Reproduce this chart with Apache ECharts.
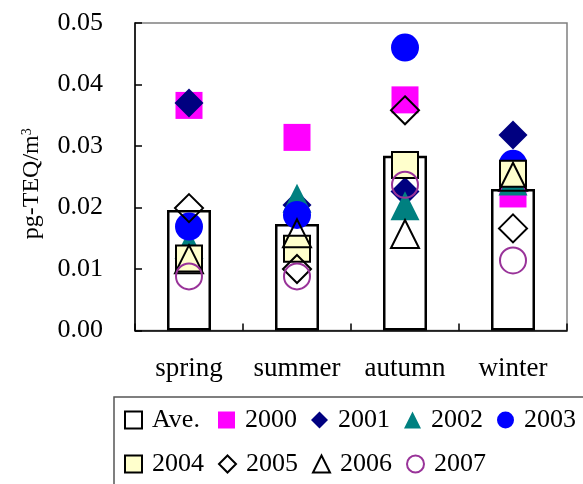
<!DOCTYPE html>
<html>
<head>
<meta charset="utf-8">
<script src="https://cdn.jsdelivr.net/npm/echarts@6/dist/echarts.min.js"></script>
<style>
  html, body { margin: 0; padding: 0; background: #fff; }
  #chart { width: 583px; height: 484px; }
</style>
</head>
<body>
<div id="chart"></div>
<script>
// Seasonal dioxin concentrations (pg-TEQ/m3), average bars and yearly markers
const seasons = ['spring', 'summer', 'autumn', 'winter'];
const yTicks = [0, 0.01, 0.02, 0.03, 0.04, 0.05];

const ave   = [0.0196, 0.0173, 0.0284, 0.0230];
const y2000 = [0.0366, 0.0314, 0.0375, 0.0222];
const y2001 = [0.0370, 0.0204, 0.0226, 0.0318];
const y2002 = [0.0140, 0.0215, 0.0203, 0.0243];
const y2003 = [0.0169, 0.0188, 0.0460, 0.0271];
const y2004 = [0.0117, 0.0133, 0.0269, 0.0255];
const y2005 = [0.0199, 0.0100, 0.0358, 0.0166];
const y2006 = [0.0116, 0.0158, 0.0157, 0.0250];
const y2007 = [0.0088, 0.0088, 0.0237, 0.0114];

const FONT = "'Liberation Serif', 'Times New Roman', serif";

const yearSeries = [
  { name: '2000', data: y2000, symbol: 'rect',     size: 27, style: { color: '#FF00FF' } },
  { name: '2001', data: y2001, symbol: 'diamond',  size: 29, style: { color: '#000080' } },
  { name: '2002', data: y2002, symbol: 'triangle', size: 29, style: { color: '#008080' } },
  { name: '2003', data: y2003, symbol: 'circle',   size: 28, style: { color: '#0000FF' } },
  { name: '2004', data: y2004, symbol: 'rect',     size: 26, style: { color: '#FFFFCC', borderColor: '#000', borderWidth: 2 } },
  { name: '2005', data: y2005, symbol: 'diamond',  size: 28, style: { color: 'rgba(255,255,255,0)', borderColor: '#000', borderWidth: 2 } },
  { name: '2006', data: y2006, symbol: 'triangle', size: 28, style: { color: 'rgba(255,255,255,0)', borderColor: '#000', borderWidth: 2 } },
  { name: '2007', data: y2007, symbol: 'circle',   size: 26, style: { color: 'rgba(255,255,255,0)', borderColor: '#993399', borderWidth: 2 } }
];

const chart = echarts.init(document.getElementById('chart'), null, { renderer: 'canvas' });

const series = [
  {
    name: 'Ave.',
    type: 'bar',
    data: ave,
    barWidth: 44,
    itemStyle: { color: '#fff', borderColor: '#000', borderWidth: 2.5 },
    silent: true
  }
].concat(yearSeries.map(s => ({
  name: s.name,
  type: 'scatter',
  data: s.data,
  symbol: s.symbol,
  symbolSize: s.size,
  itemStyle: Object.assign({ opacity: 1 }, s.style),
  silent: true
})));

const legendData = [{ name: 'Ave.', icon: 'rect', itemStyle: { color: '#fff', borderColor: '#000', borderWidth: 2 } }]
  .concat(yearSeries.map(s => ({
    name: s.name,
    icon: s.symbol,
    itemStyle: Object.assign({ borderWidth: 0 }, s.style)
  })));

chart.setOption({
  animation: false,
  backgroundColor: '#fff',
  grid: {
    left: 135, right: 16, top: 23, bottom: 153.5,
    show: true, borderColor: '#808080', borderWidth: 1.5, backgroundColor: 'transparent'
  },
  legend: {
    data: legendData,
    left: 114, top: 397,
    width: 470,
    orient: 'horizontal',
    padding: [8, 10, 12, 10],
    itemWidth: 17, itemHeight: 17,
    itemGap: 14,
    selectedMode: false,
    borderColor: '#555', borderWidth: 1.5,
    textStyle: {
      fontFamily: FONT, fontSize: 26, color: '#000',
      width: 52, lineHeight: 30, padding: [0, 0, 0, 5]
    }
  },
  xAxis: {
    type: 'category',
    data: seasons,
    axisLine: { lineStyle: { color: '#000', width: 1.5 } },
    axisTick: { show: true, inside: true, length: 7, lineStyle: { color: '#000', width: 1.5 } },
    axisLabel: { interval: 0, fontFamily: FONT, fontSize: 27, color: '#000', margin: 25 },
    splitLine: { show: false }
  },
  yAxis: {
    type: 'value',
    min: yTicks[0], max: yTicks[yTicks.length - 1], interval: yTicks[1] - yTicks[0],
    name: 'pg-TEQ/m{sup|3}',
    nameLocation: 'middle',
    nameRotate: 90,
    nameGap: 91,
    nameTextStyle: {
      fontFamily: FONT, fontSize: 24, color: '#000',
      padding: [0, 14, 0, 0],
      rich: { sup: { fontFamily: FONT, fontSize: 14, color: '#000', verticalAlign: 'top' } }
    },
    axisLine: { show: true, lineStyle: { color: '#000', width: 1.5 } },
    axisTick: { show: true, inside: true, length: 7, lineStyle: { color: '#000', width: 1.5 } },
    axisLabel: { fontFamily: FONT, fontSize: 26, color: '#000', margin: 32, formatter: v => v.toFixed(2) },
    splitLine: { show: false }
  },
  series: series
});
</script>
</body>
</html>
